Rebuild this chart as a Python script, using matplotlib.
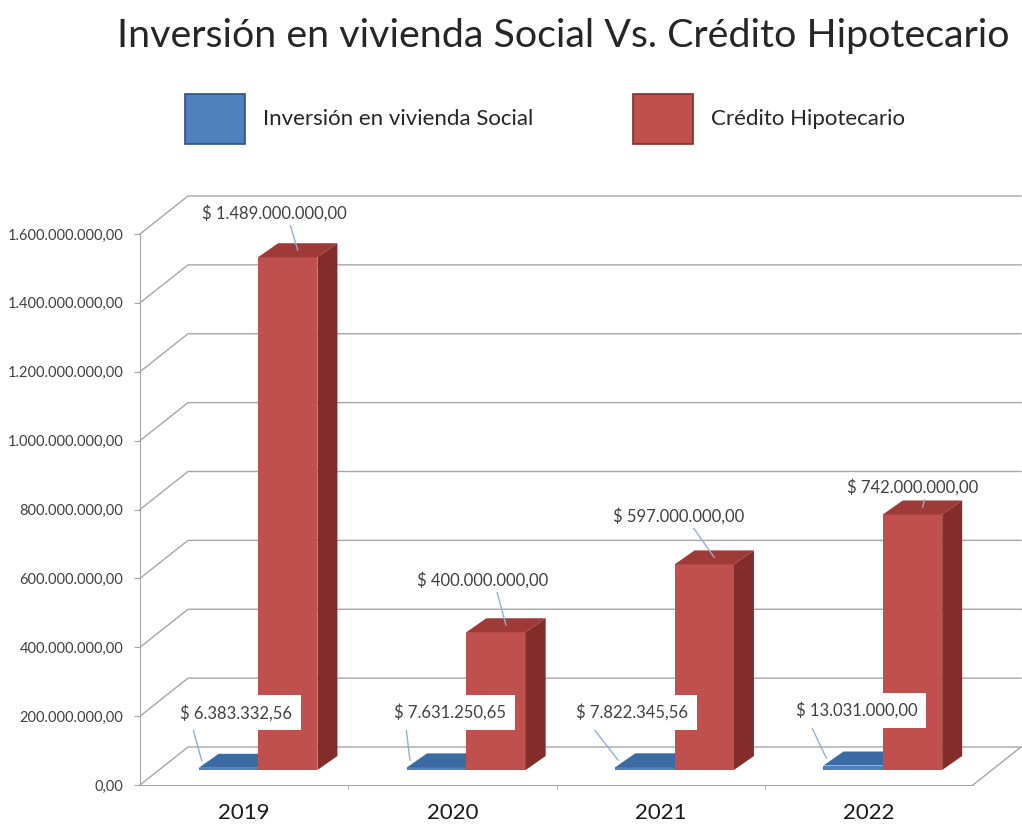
import matplotlib
matplotlib.use('Agg')
import matplotlib.pyplot as plt
from matplotlib.patches import Polygon, Patch

# data
years = ['2019', '2020', '2021', '2022']
inversion_social = [6383332.56, 7631250.65, 7822345.56, 13031000.00]
credito_hipotecario = [1489000000.00, 400000000.00, 597000000.00, 742000000.00]
y_ticks = [0, 200e6, 400e6, 600e6, 800e6, 1000e6, 1200e6, 1400e6, 1600e6]
series_names = ['Inversión en vivienda Social', 'Crédito Hipotecario']
title = 'Inversión en vivienda Social Vs. Crédito Hipotecario'


def fmt_es(v):
    # 1234567.8 -> 1.234.567,80
    s = f'{v:,.2f}'
    return s.replace(',', 'X').replace('.', ',').replace('X', '.')


plt.rcParams['font.family'] = ['Lato', 'DejaVu Sans']

W, H = 1022, 826
fig = plt.figure(figsize=(W / 100, H / 100), dpi=100)
ax = fig.add_axes([140 / W, 41 / H, 833 / W, 551 / H])
ax.set_xlim(-0.5, 3.5)
ax.set_ylim(0, 1.6e9)

# pixel -> data conversion for the fake depth
px_x = 833 / 4.0
px_y = 551 / 1.6e9


def d(px, py):
    return px / px_x, py / px_y


wall_dx, wall_dy = d(48, 38)    # back wall offset
bar_dx, bar_dy = d(20, 14)      # bar depth
_, base = d(0, 15)              # bars stand a bit behind the front edge

grid_c = '#A6A6A6'

# back wall gridlines + diagonal lines to the front axis
for v in y_ticks:
    ax.plot([-0.5, -0.5 + wall_dx, 3.5 + wall_dx],
            [v, v + wall_dy, v + wall_dy],
            color=grid_c, lw=1, clip_on=False, zorder=1)
# right edge of the floor
ax.plot([3.5, 3.5 + wall_dx], [0, wall_dy], color=grid_c, lw=1, clip_on=False, zorder=1)

w = 0.285
x_red = [i + 0.067 for i in range(len(years))]
x_blue = [x - w for x in x_red]

colors = {
    'blue': ('#4F81BD', '#3C6AA3', '#2C5283'),
    'red': ('#C0504D', '#9E3A37', '#842C2A'),
}


def draw_bars(xs, vals, key, name):
    front, top_c, side_c = colors[key]
    bars = ax.bar(xs, vals, width=w, bottom=base, align='edge', color=front,
                  label=name, zorder=3, clip_on=False)
    for x0, v in zip(xs, vals):
        t = base + v
        top = Polygon([(x0, t), (x0 + w, t), (x0 + w + bar_dx, t + bar_dy), (x0 + bar_dx, t + bar_dy)],
                      closed=True, fc=top_c, ec='none', zorder=3, clip_on=False)
        side = Polygon([(x0 + w, base), (x0 + w, t), (x0 + w + bar_dx, t + bar_dy),
                        (x0 + w + bar_dx, base + bar_dy)],
                       closed=True, fc=side_c, ec='none', zorder=3, clip_on=False)
        ax.add_patch(top)
        ax.add_patch(side)
    return bars


draw_bars(x_blue, inversion_social, 'blue', series_names[0])
draw_bars(x_red, credito_hipotecario, 'red', series_names[1])

# data labels
leader = dict(arrowstyle='-', color='#93AECF', lw=1, shrinkA=0, shrinkB=0)
red_box = dict(boxstyle='square,pad=0.2', fc='white', ec='none')
blue_box = dict(boxstyle='square,pad=0.55', fc='white', ec='none')
red_offsets = [(-23, 37), (-23, 45), (-36, 41), (-10, 20)]
blue_offsets = [(34, 48), (40, 48), (14, 48), (30, 48)]

for x0, v, off in zip(x_red, credito_hipotecario, red_offsets):
    anchor = (x0 + w / 2 + bar_dx / 2, base + v + bar_dy / 2)
    ax.annotate('$ ' + fmt_es(v), anchor, xytext=(off[0] * 0.72, off[1] * 0.72),
                textcoords='offset points', ha='center', va='center', fontsize=12,
                color='#404040', bbox=red_box, zorder=6,
                arrowprops=dict(leader, relpos=(0.6, 0)))

for x0, v, off in zip(x_blue, inversion_social, blue_offsets):
    anchor = (x0 + bar_dx * 0.15, base + v + bar_dy / 2)
    ax.annotate('$ ' + fmt_es(v), anchor, xytext=(off[0] * 0.72, off[1] * 0.72),
                textcoords='offset points', ha='center', va='center', fontsize=12,
                color='#404040', bbox=blue_box, zorder=6,
                arrowprops=dict(leader, relpos=(0.1, 0)))

# axes
for s in ['top', 'right']:
    ax.spines[s].set_visible(False)
for s in ['left', 'bottom']:
    ax.spines[s].set_color(grid_c)
ax.set_yticks(y_ticks)
ax.set_yticklabels([fmt_es(v) for v in y_ticks])
ax.tick_params(axis='y', length=4, color=grid_c, labelsize=10.5, labelcolor='#404040', pad=8)
ax.set_xticks(range(len(years)))
ax.set_xticklabels(years)
ax.set_xticks([0.5, 1.5, 2.5], minor=True)
ax.tick_params(axis='x', which='major', length=0, labelsize=16, labelcolor='#1A1A1A', pad=13)
ax.tick_params(axis='x', which='minor', length=3, color=grid_c)
ax.set_facecolor('none')

# legend
handles = [Patch(fc=colors['blue'][0], ec=colors['blue'][2], lw=1.2),
           Patch(fc=colors['red'][0], ec=colors['red'][2], lw=1.2)]
fs = 16
em = fs * 100 / 72
fig.legend(handles, series_names, loc='center', bbox_to_anchor=(545 / W, 1 - 119 / H),
           ncol=2, frameon=False, fontsize=fs, handlelength=60 / em, handleheight=68 / em,
           handletextpad=18 / em, columnspacing=100 / em, labelcolor='#262626')

fig.text(117 / W, 1 - 36 / H, title, fontsize=28.4, ha='left', va='center', color='#262626')

fig.savefig('out.png', dpi=100)
